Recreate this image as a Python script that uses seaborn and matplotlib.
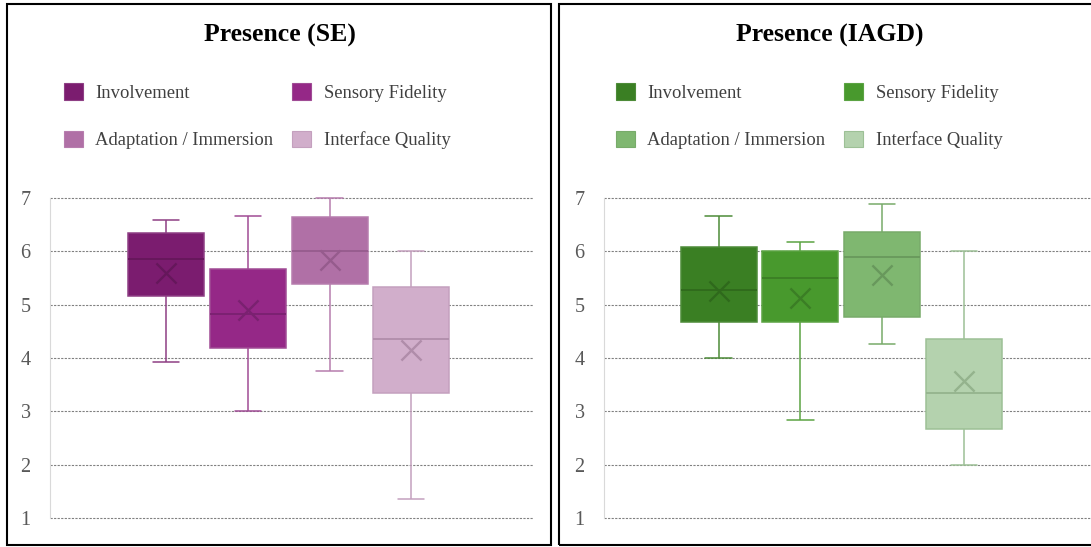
import matplotlib
matplotlib.use("Agg")
import matplotlib.pyplot as plt
from matplotlib.patches import Patch, Rectangle
import seaborn as sns
import pandas as pd

categories = ["Involvement", "Sensory Fidelity", "Adaptation / Immersion", "Interface Quality"]

# five-number summaries + means
se_low = [3.92, 3.00, 3.75, 1.35]
se_q1 = [5.17, 4.18, 5.38, 3.34]
se_median = [5.85, 4.83, 6.00, 4.35]
se_q3 = [6.35, 5.67, 6.64, 5.33]
se_high = [6.59, 6.67, 7.00, 6.00]
se_mean = [5.59, 4.90, 5.84, 4.15]

iagd_low = [4.00, 2.84, 4.26, 2.00]
iagd_q1 = [4.67, 4.67, 4.77, 2.67]
iagd_median = [5.27, 5.50, 5.89, 3.34]
iagd_q3 = [6.08, 6.00, 6.37, 4.35]
iagd_high = [6.67, 6.17, 6.88, 6.00]
iagd_mean = [5.26, 5.13, 5.56, 3.56]

se_fill = ["#7B1C6F", "#952887", "#B070A6", "#D1AECB"]
se_edge = ["#8E3F84", "#A04C95", "#B77DAE", "#C4A0BE"]
se_dark = ["#65175B", "#7A2170", "#965B8D", "#B08DAA"]

iagd_fill = ["#3A7F23", "#48992D", "#7FB770", "#B4D2AE"]
iagd_edge = ["#4D8B38", "#5BA343", "#78AB6A", "#9DC096"]
iagd_dark = ["#2F691C", "#3B7E25", "#68985C", "#94B38D"]

W, H = 1091, 547
YMIN, YMAX = 0.97, 7.03


def summary_frame(low, q1, med, q3, high):
    rows = []
    for i, cat in enumerate(categories):
        for v in (low[i], q1[i], med[i], q3[i], high[i]):
            rows.append({"category": cat, "value": v})
    return pd.DataFrame(rows)


sns.set_style("white")
plt.rcParams["font.family"] = ["Liberation Serif", "DejaVu Serif"]

fig = plt.figure(figsize=(W / 100, H / 100), dpi=100)


def draw_panel(ax_px, xlim, df, means, fills, edges, darks, title, title_x, legend_xy):
    left, right, y7, y1 = ax_px
    unit = (y1 - y7) / 6
    top_px = y7 - (YMAX - 7) * unit
    bot_px = y1 + (1 - YMIN) * unit
    ax = fig.add_axes([left / W, 1 - bot_px / H, (right - left) / W, (bot_px - top_px) / H])
    for i, cat in enumerate(categories):
        sns.boxplot(
            data=df[df["category"] == cat], x="category", y="value", order=categories,
            width=0.93, whis=(0, 100), showfliers=False, saturation=1,
            color=fills[i], linecolor=edges[i], linewidth=1.1,
            medianprops=dict(color=darks[i], linewidth=1.3),
            ax=ax,
        )
        ax.scatter([i], [means[i]], marker="x", s=210, color=darks[i], linewidths=1.7, zorder=5)
    # narrow the whisker caps like the original
    for ln in ax.lines:
        xs = list(ln.get_xdata())
        ys = list(ln.get_ydata())
        if len(xs) == 2 and ys[0] == ys[1]:
            c = (xs[0] + xs[1]) / 2
            half = abs(xs[1] - xs[0]) / 2
            if half < 0.3:
                ln.set_xdata([c - 0.16, c + 0.16])
    ax.set_xlim(*xlim)
    ax.set_ylim(YMIN, YMAX)
    ax.set_yticks(range(1, 8))
    ax.set_xticks([])
    ax.set_xlabel("")
    ax.set_ylabel("")
    ax.yaxis.grid(True, color="#808080", linestyle=(0, (2, 1.2)), linewidth=0.8)
    ax.set_axisbelow(True)
    for s in ["top", "right", "bottom"]:
        ax.spines[s].set_visible(False)
    ax.spines["left"].set_color("#D9D9D9")
    ax.spines["left"].set_linewidth(0.8)
    ax.spines["left"].set_bounds(1, 7)
    ax.tick_params(axis="y", length=0, pad=14, labelsize=14.5, labelcolor="#595959")
    ax.set_facecolor("none")

    fig.text(title_x / W, 1 - 35 / H, title, ha="center", va="center",
             fontsize=18.5, fontweight="bold", color="black")

    # matplotlib fills legend columns first, so reorder to read row by row
    order = [0, 2, 1, 3]
    handles = [Patch(facecolor=fills[i], edgecolor=edges[i], linewidth=0.8) for i in order]
    labels = [categories[i] for i in order]
    fig.legend(handles, labels, ncol=2, loc="upper left",
               bbox_to_anchor=(legend_xy[0] / W, 1 - legend_xy[1] / H),
               frameon=False, fontsize=13.4, labelcolor="#404040",
               handlelength=1.0, handleheight=1.0, handletextpad=0.68,
               columnspacing=1.02, labelspacing=1.56, borderpad=0, borderaxespad=0)
    return ax


se_df = summary_frame(se_low, se_q1, se_median, se_q3, se_high)
iagd_df = summary_frame(iagd_low, iagd_q1, iagd_median, iagd_q3, iagd_high)

draw_panel((50, 533, 198, 518), (-1.42, 4.49), se_df, se_mean,
           se_fill, se_edge, se_dark, "Presence (SE)", 280, (64, 83))
draw_panel((604, 1091, 198, 518), (-1.40, 4.55), iagd_df, iagd_mean,
           iagd_fill, iagd_edge, iagd_dark, "Presence (IAGD)", 830, (616, 83))

# panel frames
fig.add_artist(Rectangle((7 / W, 1 - 545 / H), 544 / W, 541 / H, transform=fig.transFigure,
                         fill=False, edgecolor="black", linewidth=1.5))
fig.add_artist(Rectangle((559 / W, 1 - 545 / H), 545 / W, 541 / H, transform=fig.transFigure,
                         fill=False, edgecolor="black", linewidth=1.5))

fig.savefig("out.png", dpi=100)
